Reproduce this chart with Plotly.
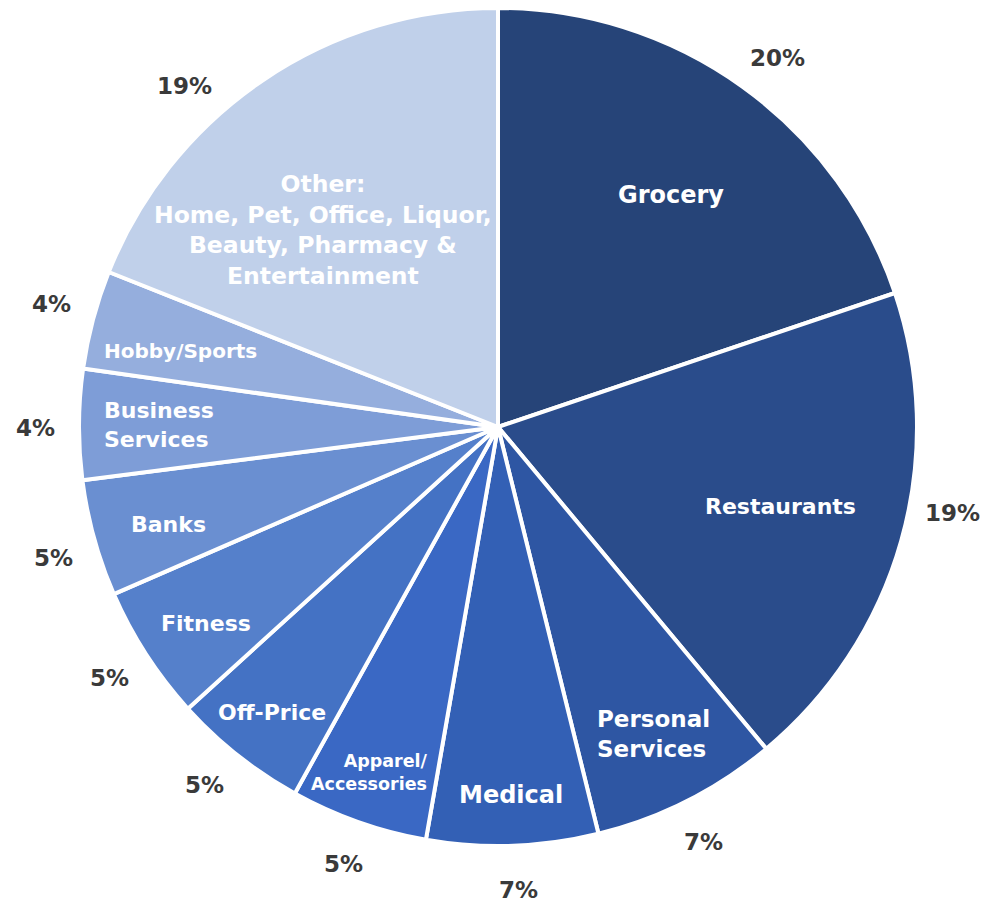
import math
import plotly.graph_objects as go

# ---- data ----
categories = ["Grocery", "Restaurants", "Personal Services", "Medical",
              "Apparel/Accessories", "Off-Price", "Fitness", "Banks",
              "Business Services", "Hobby/Sports", "Other"]
values = [19.8, 19.1, 7.2, 6.6, 5.3, 5.2, 5.2, 4.5, 4.25, 3.8, 18.95]
pct_labels = ["20%", "19%", "7%", "7%", "5%", "5%", "5%", "5%", "4%", "4%", "19%"]
display_names = ["Grocery", "Restaurants", "Personal<br>Services", "Medical",
                 "Apparel/<br>Accessories", "Off-Price", "Fitness", "Banks",
                 "Business<br>Services", "Hobby/Sports",
                 "Other:<br>Home, Pet, Office, Liquor,<br>Beauty, Pharmacy &<br>Entertainment"]

# ---- style ----
colors = ["#264478", "#2A4C8B", "#2E56A3", "#3360B5", "#3A68C4", "#4472C4",
          "#5580CB", "#6A8FD1", "#7E9DD7", "#95AEDD", "#C0D0EA"]
W, H = 988, 902
CX, CY, R = 490, 419, 419          # page adds an 8px body margin
name_r = [0.69, 0.70, 0.82, 0.88, 0.88, 0.87, 0.84, 0.82, 0.81, 0.78, 0.63]
name_dang = [1, 0, 0, 0, 1.0, 0, -1, -1, 0, -1.5, -7.5]
name_size = [24, 22, 23, 24, 17.5, 22, 22, 22, 22, 20, 23.5]
name_align = ["center", "center", "left", "center", "right", "center", "center",
              "center", "left", "center", "center"]
pct_r = 1.105
pct_dang = [1.5, -5, 0.5, -0.5, 0, 1, 0, -1, -0.5, 0.5, -8.5]
FONT = "DejaVu Sans"

y0 = max(0.0, 1 - (CY + R) / H)
y1 = min(1.0, 1 - (CY - R) / H)
fig = go.Figure(go.Pie(
    labels=categories, values=values, sort=False, direction="clockwise",
    rotation=0, textinfo="none", hoverinfo="skip",
    marker=dict(colors=colors, line=dict(color="white", width=4)),
    domain=dict(x=[(CX - R) / W, (CX + R) / W], y=[y0, y1]),
    showlegend=False,
))

total = sum(values)
cum = 0.0
annotations = []
for i, v in enumerate(values):
    mid = (cum + v / 2) / total * 360.0
    cum += v
    # names inside
    a = math.radians(mid + name_dang[i])
    px = CX + name_r[i] * R * math.sin(a)
    py = CY - name_r[i] * R * math.cos(a)
    annotations.append(dict(x=px / W, y=1 - py / H, xref="paper", yref="paper",
                            xanchor="center", yanchor="middle",
                            text="<b>" + display_names[i] + "</b>", showarrow=False,
                            align=name_align[i],
                            font=dict(family=FONT, size=name_size[i], color="white")))
    # percentages outside
    a = math.radians(mid + pct_dang[i])
    px = CX + pct_r * R * math.sin(a)
    py = CY - pct_r * R * math.cos(a)
    annotations.append(dict(x=px / W, y=1 - py / H, xref="paper", yref="paper",
                            xanchor="center", yanchor="middle",
                            text="<b>" + pct_labels[i] + "</b>", showarrow=False,
                            font=dict(family=FONT, size=23, color="#3A3A3A")))

fig.update_layout(width=W, height=H, margin=dict(l=0, r=0, t=0, b=0),
                  paper_bgcolor="white", plot_bgcolor="white",
                  annotations=annotations)
fig.write_html("out.html")
